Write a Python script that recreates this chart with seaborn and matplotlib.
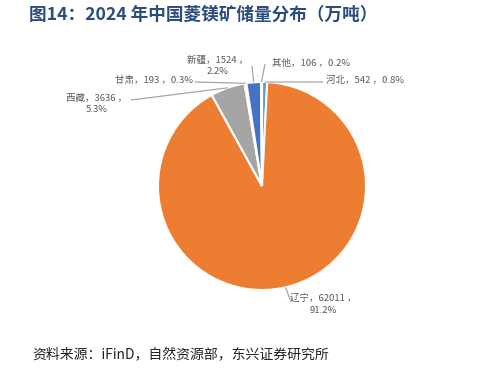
import numpy as np
import matplotlib
matplotlib.use("Agg")
import matplotlib.pyplot as plt
import seaborn as sns

# ---- data ----
regions = ["河北", "辽宁", "西藏", "甘肃", "新疆", "其他"]
reserves = [542, 62011, 3636, 193, 1524, 106]
pct_labels = ["0.8%", "91.2%", "5.3%", "0.3%", "2.2%", "0.2%"]
colors = ["#5B9BD5", "#ED7D31", "#A5A5A5", "#FFC000", "#4472C4", "#70AD47"]

title = "图14：2024 年中国菱镁矿储量分布（万吨）"
source = "资料来源：iFinD，自然资源部，东兴证券研究所"

sns.set_theme(style="white")
plt.rcParams["font.family"] = ["Noto Sans CJK SC", "DejaVu Sans"]

W, H = 490, 369
fig = plt.figure(figsize=(W / 100, H / 100), dpi=100)
cx, cy, r = 262, 186, 104
ax = fig.add_axes([(cx - r) / W, (H - cy - r) / H, 2 * r / W, 2 * r / H])

wedges, _ = ax.pie(reserves, colors=colors, startangle=90, counterclock=False,
                   radius=1, wedgeprops=dict(edgecolor="white", linewidth=1.5))
ax.set_xlim(-1, 1)
ax.set_ylim(-1, 1)
ax.set_aspect("equal")
ax.axis("off")

def px(x, y):
    return ((x - cx) / r, (cy - y) / r)

# label layout: (text anchor px, ha, lines, leader path px before rim point)
layout = {
    "河北": dict(pos=(326, 80), ha="left", two=False, path=[(323, 82)]),
    "辽宁": dict(pos=(323, 304), ha="center", two=True, path=[(293, 299), (290, 299)]),
    "西藏": dict(pos=(97, 104), ha="center", two=True, path=[(131, 100)]),
    "甘肃": dict(pos=(193, 80), ha="right", two=False, path=[(195, 82)]),
    "新疆": dict(pos=(218, 66), ha="center", two=True, path=[(252, 66)]),
    "其他": dict(pos=(272, 63), ha="left", two=False, path=[(265, 64)]),
}

lc = "#A6A6A6"
for w, name, val, pct in zip(wedges, regions, reserves, pct_labels):
    L = layout[name]
    mid = np.deg2rad((w.theta1 + w.theta2) / 2)
    rim = (np.cos(mid), np.sin(mid))
    pts = [px(*p) for p in L["path"]] + [rim]
    ax.plot([p[0] for p in pts], [p[1] for p in pts], color=lc, lw=0.9,
            clip_on=False, solid_capstyle="butt")
    sep = "\n" if L["two"] else ""
    txt = f"{name}，{val} ，{sep}{pct}"
    tx, ty = px(*L["pos"])
    ax.text(tx, ty, txt, ha=L["ha"], va="center", fontsize=6.8,
            color="#595959", linespacing=1.35, clip_on=False,
            multialignment="center")

fig.text(29 / W, 1 - 15 / H, title, fontsize=12.7, fontweight="bold",
         color="#2B4C7E", ha="left", va="center")
fig.text(32 / W, 1 - 355 / H, source, fontsize=10, style="italic",
         color="#222222", ha="left", va="center")

fig.savefig("out.png", dpi=100, facecolor="white")
